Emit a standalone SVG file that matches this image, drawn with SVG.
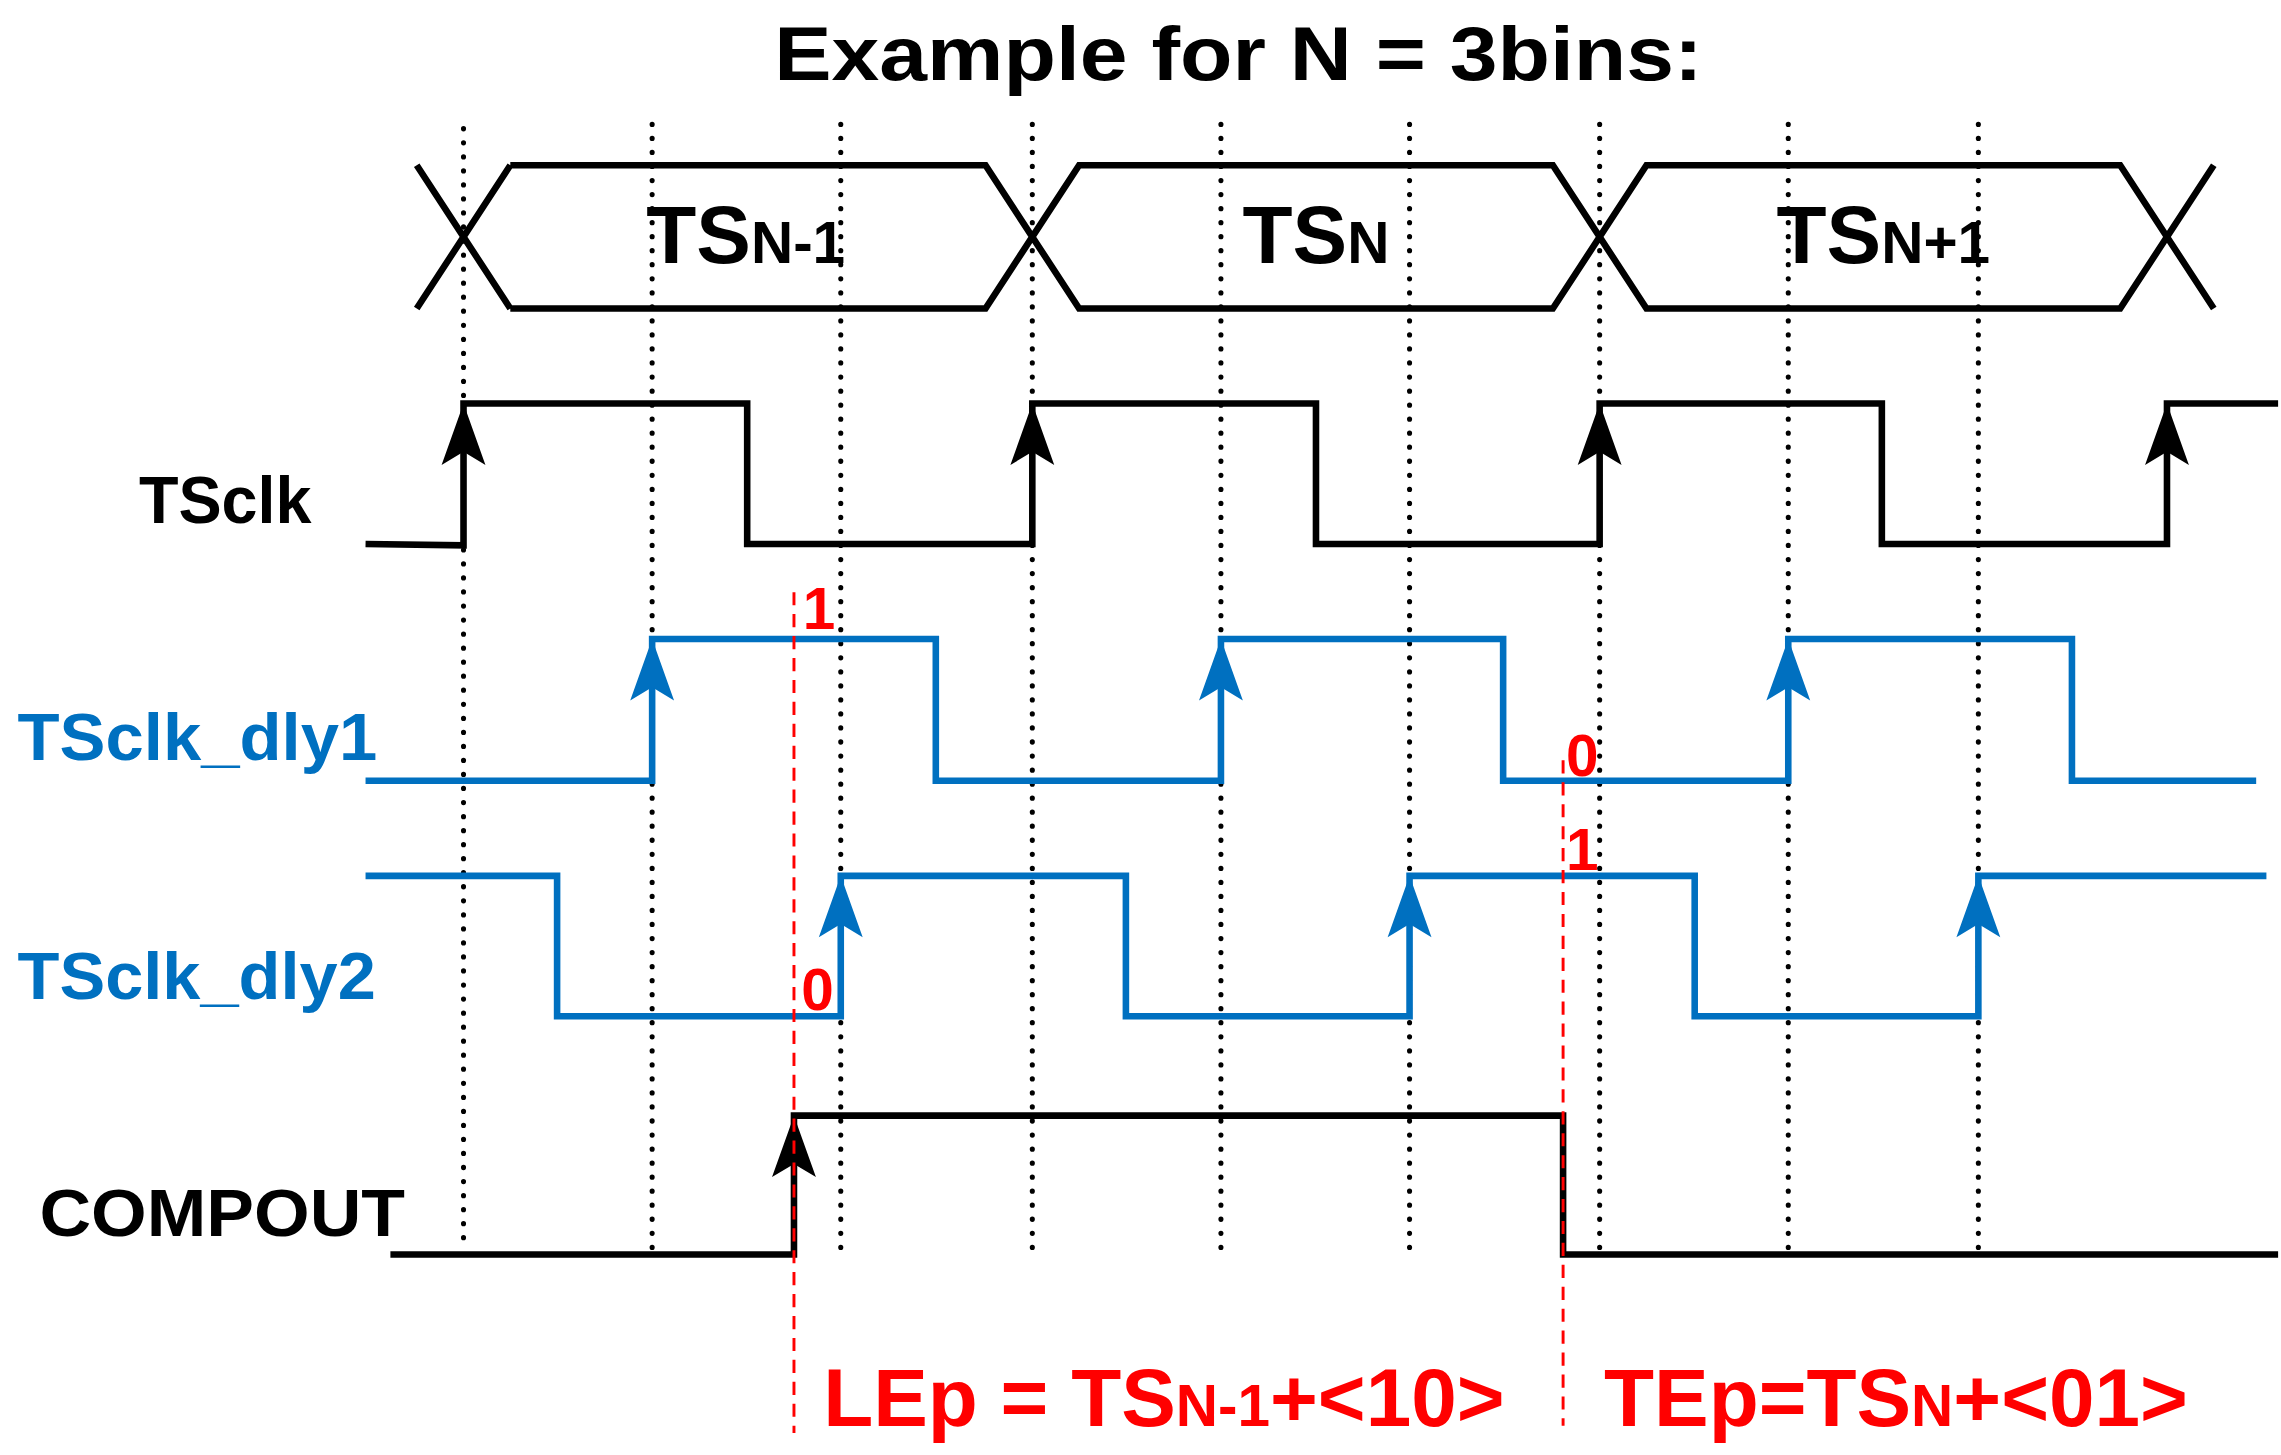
<svg xmlns="http://www.w3.org/2000/svg" width="2281" height="1455" viewBox="0 0 2281 1455">
<style>
.dot{stroke:#000;stroke-width:3.5;stroke-dasharray:0.1 9.5;stroke-linecap:round;fill:none}
.bk{stroke:#000;stroke-width:4.5;fill:none;stroke-linejoin:miter}
.bl{stroke:#0070C0;stroke-width:4.5;fill:none}
.rd{stroke:#FF0000;stroke-width:2;stroke-dasharray:9 6;fill:none}
.t{font-family:"Liberation Sans",Arial,sans-serif;font-weight:bold}
.ab{fill:#000}.aa{fill:#0070C0}
</style>
<defs>
<path id="ah" d="M0,0 L-15,42 L0,33 L15,42 Z"/>
</defs>
<rect width="2281" height="1455" fill="#fff"/>
<g transform="scale(1.4622)">
<text class="t" x="847" y="55" font-size="52" text-anchor="middle" textLength="635" lengthAdjust="spacingAndGlyphs">Example for N = 3bins:</text>
<g id="grid">
<line class="dot" x1="317" y1="88" x2="317" y2="855"/>
<line class="dot" x1="446" y1="85" x2="446" y2="855"/>
<line class="dot" x1="575" y1="85" x2="575" y2="855"/>
<line class="dot" x1="706" y1="85" x2="706" y2="855"/>
<line class="dot" x1="835" y1="85" x2="835" y2="855"/>
<line class="dot" x1="964" y1="85" x2="964" y2="855"/>
<line class="dot" x1="1094" y1="85" x2="1094" y2="855"/>
<line class="dot" x1="1223" y1="85" x2="1223" y2="855"/>
<line class="dot" x1="1353" y1="85" x2="1353" y2="855"/>
</g>
<g id="bus">
<path class="bk" d="M285,113 L349,211 M285,211 L349,113 M349,113 H674 L738,211 H1062 L1126,113 H1450 L1514,211 M349,211 H674 L738,113 H1062 L1126,211 H1450 L1514,113"/>
<text class="t" x="510" y="180" font-size="56" text-anchor="middle">TS<tspan font-size="40">N-1</tspan></text>
<text class="t" x="900" y="180" font-size="56" text-anchor="middle">TS<tspan font-size="40">N</tspan></text>
<text class="t" x="1288" y="180" font-size="56" text-anchor="middle">TS<tspan font-size="40">N+1</tspan></text>
</g>
<g id="tsclk">
<text class="t" x="95" y="358" font-size="46" textLength="118" lengthAdjust="spacingAndGlyphs">TSclk</text>
<path class="bk" d="M250,372 L317,373 L317,276 H511 V372 H706 V276 H900 V372 H1094 V276 H1287 V372 H1482 V276 H1558"/>
<use href="#ah" class="ab" x="317" y="276"/><use href="#ah" class="ab" x="706" y="276"/><use href="#ah" class="ab" x="1094" y="276"/><use href="#ah" class="ab" x="1482" y="276"/>
</g>
<g id="dly1">
<text class="t" x="12" y="520" font-size="46" fill="#0070C0" textLength="246" lengthAdjust="spacingAndGlyphs">TSclk_dly1</text>
<path class="bl" d="M250,534 H446 V437 H640 V534 H835 V437 H1028 V534 H1223 V437 H1417 V534 H1543"/>
<use href="#ah" class="aa" x="446" y="437"/><use href="#ah" class="aa" x="835" y="437"/><use href="#ah" class="aa" x="1223" y="437"/>
</g>
<g id="dly2">
<text class="t" x="12" y="683" font-size="46" fill="#0070C0" textLength="245" lengthAdjust="spacingAndGlyphs">TSclk_dly2</text>
<path class="bl" d="M250,599 H381 V695 H575 V599 H770 V695 H964 V599 H1159 V695 H1353 V599 H1550"/>
<use href="#ah" class="aa" x="575" y="599"/><use href="#ah" class="aa" x="964" y="599"/><use href="#ah" class="aa" x="1353" y="599"/>
</g>
<g id="compout">
<text class="t" x="27" y="845" font-size="46" textLength="250" lengthAdjust="spacingAndGlyphs">COMPOUT</text>
<path class="bk" d="M267,858 H543 V763 H1069 V858 H1558"/>
<use href="#ah" class="ab" x="543" y="763"/>
</g>
<g id="markers">
<line class="rd" x1="543" y1="405" x2="543" y2="980"/>
<line class="rd" x1="1069" y1="520" x2="1069" y2="975"/>
<g class="t" fill="#FF0000" font-size="40">
<text x="549" y="430">1</text>
<text x="1071" y="531">0</text>
<text x="1071" y="595">1</text>
<text x="548" y="691">0</text>
</g>
<text class="t" x="563" y="975" font-size="56" fill="#FF0000">LEp = TS<tspan font-size="40">N-1</tspan>+&lt;10&gt;</text>
<text class="t" x="1097" y="975" font-size="56" fill="#FF0000">TEp=TS<tspan font-size="40">N</tspan>+&lt;01&gt;</text>
</g>
</g>
</svg>
